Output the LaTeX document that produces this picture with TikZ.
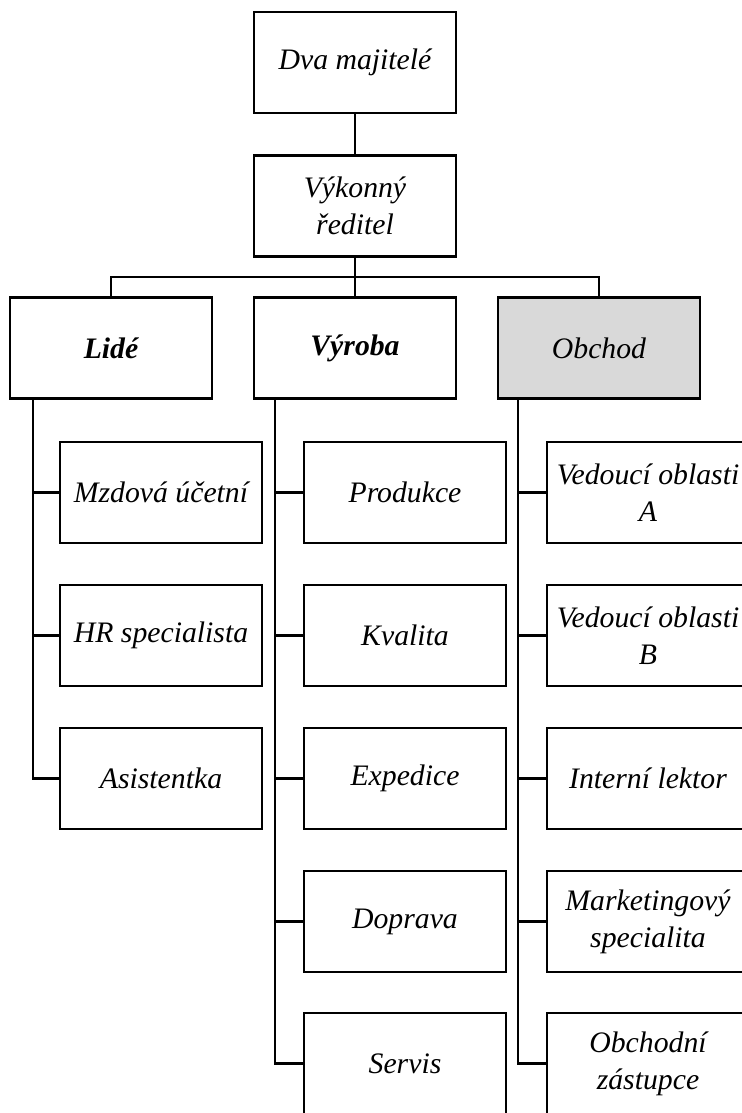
\documentclass[tikz,border=0pt]{standalone}
\usepackage{fontspec}
\setmainfont{Liberation Serif}
\begin{document}
\begin{tikzpicture}[x=0.75pt,y=-0.75pt,
  box/.style={draw=black,line width=2pt,fill=white,minimum width=151.5pt,minimum height=75.75pt,
    inner sep=1pt,align=center,font=\fontsize{22.3}{27.5}\selectfont\itshape},
  hbox/.style={box,font=\fontsize{22.3}{27.5}\selectfont\bfseries\itshape},
  gbox/.style={box,fill=black!15},
  conn/.style={draw=black,line width=2pt}]
\useasboundingbox (0,0) rectangle (742,1113);
\clip (0,0) rectangle (742,1113);
% top
\node[box] (dva) at (355,62.5) {Dva majitelé};
\node[box] (ved) at (355,206) {Výkonný\\ředitel};
% departments
\node[hbox] (lide) at (111,348) {Lidé};
\node[hbox] (vyr) at (355,348) {Výroba};
\node[gbox] (obch) at (599,348) {Obchod};
% Lidé children
\node[box] (l1) at (161,492.5) {Mzdová účetní};
\node[box] (l2) at (161,635.5) {HR specialista};
\node[box] (l3) at (161,778.5) {Asistentka};
% Výroba children
\node[box] (v1) at (405,492.5) {Produkce};
\node[box] (v2) at (405,635.5) {Kvalita};
\node[box] (v3) at (405,778.5) {Expedice};
\node[box] (v4) at (405,921.5) {Doprava};
\node[box] (v5) at (405,1063.5) {Servis};
% Obchod children
\node[box] (o1) at (648,492.5) {Vedoucí oblasti\\A};
\node[box] (o2) at (648,635.5) {Vedoucí oblasti\\B};
\node[box] (o3) at (648,778.5) {Interní lektor};
\node[box] (o4) at (648,921.5) {Marketingový\\specialita};
\node[box] (o5) at (648,1063.5) {Obchodní\\zástupce};
% connectors
\coordinate (bus) at (355,277);
\draw[conn] (dva.south) -- (ved.north);
\draw[conn] (ved.south) -- (bus) -- (vyr.north);
\draw[conn] (lide.north) |- (bus) -| (obch.north);
\coordinate (lt) at (33,398);
\coordinate (vt) at (275,398);
\coordinate (ot) at (518,398);
\foreach \c in {l1,l2,l3} \draw[conn] (lt) |- (\c.west);
\foreach \c in {v1,v2,v3,v4,v5} \draw[conn] (vt) |- (\c.west);
\foreach \c in {o1,o2,o3,o4,o5} \draw[conn] (ot) |- (\c.west);
\end{tikzpicture}
\end{document}
